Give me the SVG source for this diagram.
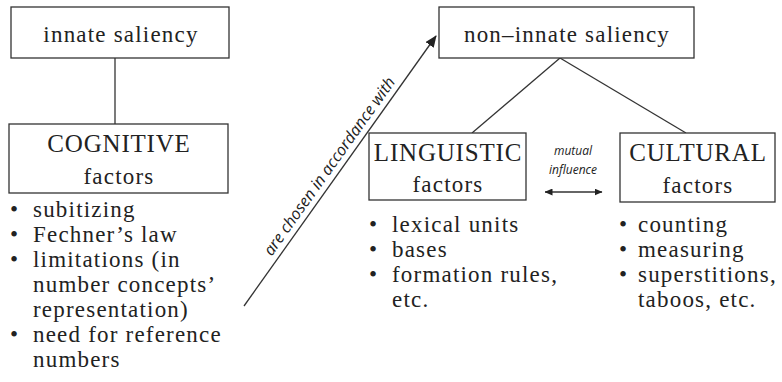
<svg xmlns="http://www.w3.org/2000/svg" width="782" height="382" viewBox="0 0 782 382">
<defs>
<marker id="ah" viewBox="0 0 12 10" refX="11" refY="5" markerWidth="12" markerHeight="10" markerUnits="userSpaceOnUse" orient="auto-start-reverse">
<path d="M0,0 L12,5 L0,10 Z" fill="#222"/>
</marker>
<marker id="sh" viewBox="0 0 8 7" refX="7.5" refY="3.5" markerWidth="8" markerHeight="7" markerUnits="userSpaceOnUse" orient="auto-start-reverse">
<path d="M0,0 L8,3.5 L0,7 Z" fill="#222"/>
</marker>
</defs>
<style>
.box{fill:#fff;stroke:#333;stroke-width:1.3}
.t{font-family:"Liberation Serif",serif;font-size:23px;letter-spacing:1.2px;fill:#222}
.c{font-family:"Liberation Serif",serif;font-size:25px;letter-spacing:0.8px;fill:#222}
.m{text-anchor:middle}
.s{font-family:"Open Sans","Liberation Sans",sans-serif;font-style:italic;fill:#222}
.ln{stroke:#333;stroke-width:1.3;fill:none}
</style>
<rect width="782" height="382" fill="#fff"/>
<g id="connectors">
<line class="ln" x1="115" y1="58" x2="115" y2="124"/>
<line class="ln" x1="560" y1="58" x2="472" y2="133"/>
<line class="ln" x1="560" y1="58" x2="686" y2="133"/>
<line class="ln" x1="244" y1="306" x2="436" y2="36" marker-end="url(#ah)"/>
<text class="s m" font-size="16" transform="translate(338.6,172.9) rotate(-54.6)" x="0" y="-6">are chosen in accordance with</text>
<line class="ln" x1="545" y1="192" x2="602" y2="192" marker-start="url(#sh)" marker-end="url(#sh)"/>
<text class="s m" font-size="12" x="573" y="155">mutual</text>
<text class="s m" font-size="12" x="573" y="174">influence</text>
</g>
<g id="innate">
<rect class="box" x="11" y="7" width="218" height="51"/>
<text class="t m" x="121" y="42">innate saliency</text>
</g>
<g id="noninnate">
<rect class="box" x="439" y="7" width="255" height="51"/>
<text class="t m" x="567" y="42">non–innate saliency</text>
</g>
<g id="cognitive">
<rect class="box" x="9" y="124" width="219" height="69"/>
<text class="c m" x="119" y="152">COGNITIVE</text>
<text class="t m" x="119" y="184">factors</text>
<text class="t" x="10" y="217">•</text><text class="t" x="33" y="217">subitizing</text>
<text class="t" x="10" y="242">•</text><text class="t" x="33" y="242">Fechner’s law</text>
<text class="t" x="10" y="267">•</text><text class="t" x="33" y="267">limitations (in</text>
<text class="t" x="33" y="292">number concepts’</text>
<text class="t" x="33" y="317">representation)</text>
<text class="t" x="10" y="342">•</text><text class="t" x="33" y="342">need for reference</text>
<text class="t" x="33" y="367">numbers</text>
</g>
<g id="linguistic">
<rect class="box" x="369" y="133" width="157" height="67"/>
<text class="c m" x="448" y="161">LINGUISTIC</text>
<text class="t m" x="448" y="192">factors</text>
<text class="t" x="369" y="232">•</text><text class="t" x="392" y="232">lexical units</text>
<text class="t" x="369" y="257">•</text><text class="t" x="392" y="257">bases</text>
<text class="t" x="369" y="282">•</text><text class="t" x="392" y="282">formation rules,</text>
<text class="t" x="392" y="307">etc.</text>
</g>
<g id="cultural">
<rect class="box" x="620" y="133" width="155" height="69"/>
<text class="c m" x="698" y="161">CULTURAL</text>
<text class="t m" x="698" y="193">factors</text>
<text class="t" x="619" y="232">•</text><text class="t" x="638" y="232">counting</text>
<text class="t" x="619" y="257">•</text><text class="t" x="638" y="257">measuring</text>
<text class="t" x="619" y="282">•</text><text class="t" x="638" y="282">superstitions,</text>
<text class="t" x="638" y="307">taboos, etc.</text>
</g>
</svg>
